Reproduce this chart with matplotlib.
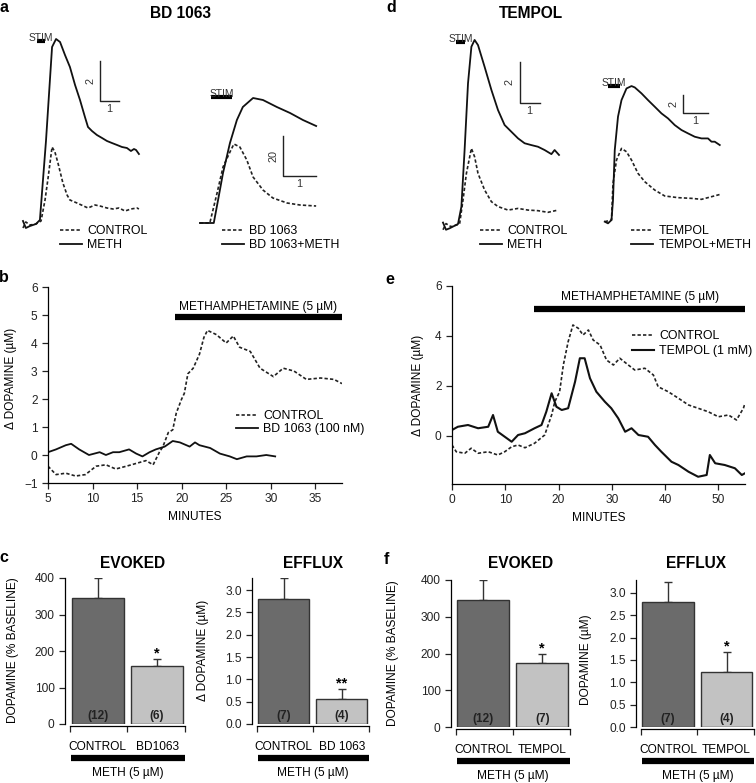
"""
Two-column figure: BD 1063 (left) and TEMPOL (right) effects on
methamphetamine-induced dopamine release.
"""

import matplotlib
matplotlib.use("Agg")
import matplotlib.pyplot as plt
from matplotlib.lines import Line2D

plt.rcParams["font.family"] = ["Liberation Sans", "DejaVu Sans"]
plt.rcParams["axes.linewidth"] = 0.9

# ---- panel a: evoked traces (time in s, left pair in uM, right pair in %)
A_TIME_CTRL = [0, 0.15, 0.37, 0.68, 0.95, 1.16, 1.32, 1.53, 1.68, 1.84, 2.1, 2.32,
               2.47, 2.84, 3.42, 3.79, 4.05, 4.42, 4.74, 5.05, 5.37, 5.68, 6.0, 6.1]
A_DA_CTRL = [-0.15, 0.15, 0.0, 0.05, 0.2, 1.25, 2.35, 3.9, 3.65, 3.1, 2.1, 1.5,
             1.25, 1.1, 0.85, 1.0, 0.95, 0.85, 0.8, 0.85, 0.7, 0.8, 0.85, 0.8]
A_TIME_METH = [0, 0.15, 0.37, 0.68, 0.89, 1.21, 1.53, 1.74, 1.95, 2.21, 2.47, 2.74,
               3.0, 3.26, 3.42, 3.63, 3.89, 4.16, 4.42, 4.68, 4.95, 5.21, 5.47,
               5.68, 5.84, 5.95, 6.1]
A_DA_METH = [0.2, -0.15, -0.05, 0.05, 0.25, 4.2, 8.9, 9.3, 9.15, 8.5, 7.9, 7.0,
             6.25, 5.4, 4.9, 4.7, 4.5, 4.35, 4.2, 4.1, 4.0, 3.9, 3.85,
             3.7, 3.8, 3.75, 3.55]
A_TIME_BD = [0, 0.3, 0.52, 0.7, 0.91, 1.03, 1.21, 1.42, 1.61, 1.91, 2.21, 2.64, 3.03, 3.52]
A_DA_BD = [0, 0, 15, 28, 35.5, 39.5, 38, 31.5, 23, 16.5, 12.5, 10, 9, 8.5]
A_TIME_BDMETH = [0, 0.42, 0.55, 0.7, 0.91, 1.12, 1.3, 1.61, 1.91, 2.33, 2.73, 3.12, 3.52]
A_DA_BDMETH = [0, 0, 11.5, 25, 40, 51.5, 58, 62.5, 61.5, 58, 55, 51.5, 48.5]

# ---- panel d: evoked traces
D_TIME_CTRL = [0, 0.15, 0.4, 0.83, 1.0, 1.17, 1.42, 1.58, 1.75, 2.08, 2.42, 2.75,
               3.25, 3.75, 4.25, 4.75, 5.25, 5.75]
D_DA_CTRL = [-0.15, 0.15, 0.0, 0.13, 1.3, 2.6, 3.82, 3.41, 2.6, 1.79, 1.22, 0.98,
             0.81, 0.89, 0.81, 0.78, 0.7, 0.81]
D_TIME_METH = [0, 0.15, 0.33, 0.75, 0.92, 1.08, 1.25, 1.42, 1.58, 1.75, 2.08, 2.42,
               2.75, 3.08, 3.42, 3.75, 4.08, 4.42, 4.75, 5.08, 5.42, 5.58, 5.8]
D_DA_METH = [0.2, -0.15, -0.08, 0.13, 0.98, 3.74, 6.99, 8.78, 9.11, 8.86, 7.8, 6.67,
             5.69, 4.96, 4.63, 4.31, 4.07, 3.98, 3.9, 3.74, 3.54, 3.74, 3.5]
D_TIME_TEMPOL = [0, 0.27, 0.33, 0.47, 0.67, 0.87, 1.07, 1.33, 1.6, 2.0, 2.4, 2.93,
                 3.47, 3.87, 4.27, 4.67]
D_DA_TEMPOL = [0, 0.19, 4.34, 6.98, 8.3, 7.92, 6.98, 5.47, 4.53, 3.58, 2.91, 2.72,
               2.64, 2.53, 2.83, 3.13]
D_TIME_TMETH = [0, 0.13, 0.27, 0.33, 0.4, 0.53, 0.67, 0.87, 1.07, 1.2, 1.47, 1.73,
                2.0, 2.27, 2.53, 2.8, 3.07, 3.33, 3.6, 3.87, 4.13, 4.27, 4.4, 4.6]
D_DA_TMETH = [0, -0.19, 0.19, 2.45, 8.11, 11.89, 13.77, 15.09, 15.36, 15.21, 14.53,
              13.77, 13.02, 12.26, 11.7, 10.94, 10.38, 10.0, 9.62, 9.43, 9.43,
              9.06, 9.06, 8.68]

# ---- panel b: efflux time course (minutes, delta uM)
B_MIN_CTRL = [5, 5.9, 7.0, 8.1, 9.2, 10.4, 11.5, 12.6, 13.8, 14.9, 16.0, 16.8, 17.5,
              17.9, 18.5, 19.0, 19.4, 20.0, 20.3, 20.7, 21.3, 22.0, 22.5, 22.9,
              23.9, 25.0, 25.8, 26.5, 27.7, 28.8, 30.3, 31.4, 32.6, 34.0, 35.6,
              37.1, 38.0]
B_DA_CTRL = [-0.4, -0.7, -0.65, -0.75, -0.7, -0.4, -0.35, -0.5, -0.4, -0.3, -0.2,
             -0.35, 0.1, 0.3, 0.8, 0.9, 1.5, 2.0, 2.2, 2.9, 3.1, 3.6, 4.2, 4.45,
             4.3, 4.0, 4.25, 3.85, 3.7, 3.1, 2.8, 3.1, 3.0, 2.7, 2.75, 2.7, 2.55]
B_MIN_BD = [5, 5.9, 7.0, 7.6, 8.5, 9.6, 10.8, 11.5, 12.3, 13.0, 14.1, 14.9, 15.6,
            16.4, 17.1, 18.1, 19.0, 19.8, 20.9, 21.5, 22.0, 23.2, 24.3, 25.4, 26.2,
            27.3, 28.4, 29.5, 30.5]
B_DA_BD = [0.1, 0.2, 0.35, 0.4, 0.2, 0.0, 0.1, 0.0, 0.1, 0.1, 0.2, 0.05, -0.05,
           0.1, 0.2, 0.3, 0.5, 0.45, 0.3, 0.45, 0.35, 0.25, 0.05, -0.05, -0.15,
           -0.05, -0.05, 0.0, -0.05]
B_METH_ON = [19.3, 38]

# ---- panel e: efflux time course
E_MIN_CTRL = [0, 0.8, 2.4, 3.6, 4.9, 6.8, 8.6, 9.9, 11.2, 12.4, 13.7, 15.5, 17.4,
              18.7, 19.3, 20.2, 20.9, 21.8, 22.7, 23.7, 24.6, 25.6, 26.5, 27.8,
              29.0, 30.3, 31.5, 33.1, 34.3, 36.2, 37.8, 38.7, 40.6, 42.5, 44.4,
              46.2, 48.1, 50.0, 51.9, 53.4, 54.7, 55.0]
E_DA_CTRL = [-0.36, -0.63, -0.69, -0.49, -0.69, -0.63, -0.76, -0.63, -0.43, -0.36,
             -0.47, -0.29, 0.04, 0.84, 1.37, 1.77, 2.84, 3.77, 4.44, 4.31, 4.04,
             4.24, 3.84, 3.64, 3.04, 2.84, 3.11, 2.84, 2.64, 2.71, 2.44, 1.97,
             1.77, 1.51, 1.24, 1.11, 0.97, 0.77, 0.84, 0.64, 1.11, 1.31]
E_MIN_TEMPOL = [0, 1.1, 3.0, 4.9, 6.8, 7.7, 8.6, 9.9, 11.2, 12.4, 13.7, 15.5, 16.8,
                17.7, 18.7, 19.6, 20.6, 21.8, 23.1, 24.0, 24.9, 25.9, 27.1, 28.7,
                29.9, 31.2, 32.5, 33.7, 35.0, 36.8, 38.1, 39.3, 41.2, 42.5, 44.4,
                46.2, 47.8, 48.4, 49.4, 51.2, 53.1, 54.4, 55.0]
E_DA_TEMPOL = [0.24, 0.37, 0.44, 0.31, 0.37, 0.84, 0.17, -0.03, -0.23, 0.04, 0.11,
               0.31, 0.44, 0.97, 1.71, 1.17, 1.04, 1.11, 2.17, 3.11, 3.11, 2.31,
               1.77, 1.37, 1.11, 0.71, 0.17, 0.31, 0.04, -0.03, -0.36, -0.63,
               -1.03, -1.16, -1.43, -1.63, -1.56, -0.76, -1.09, -1.16, -1.29,
               -1.56, -1.49]
E_METH_ON = [15.4, 55]

# ---- panels c and f: bar summaries
C_EVOKED = [345, 160]
C_EVOKED_ERR = [55, 17]
C_EFFLUX = [2.8, 0.55]
C_EFFLUX_ERR = [0.47, 0.23]
C_N = ["(12)", "(6)"]
C_N_EFFLUX = ["(7)", "(4)"]
F_EVOKED = [345, 175]
F_EVOKED_ERR = [55, 23]
F_EFFLUX = [2.8, 1.22]
F_EFFLUX_ERR = [0.45, 0.46]
F_N = ["(12)", "(7)"]
F_N_EFFLUX = ["(7)", "(4)"]

W, H = 756, 783
DASH = (0, (2.0, 1.3))
FS = 8.6
LEG_FS = 8.9

fig = plt.figure(figsize=(W / 100, H / 100), dpi=100)


def px_axes(left, top, width, height):
    return fig.add_axes([left / W, (H - top - height) / H, width / W, height / H])


def ftext(x, y, s, **kw):
    fig.text(x / W, 1 - y / H, s, **kw)


def add_legend(ax, labels, x, y, spacing=0.15, lw_solid=1.3):
    handles = [Line2D([], [], color="#222222", lw=1.2, ls=DASH),
               Line2D([], [], color="#111111", lw=lw_solid)]
    ax.legend(handles, labels, loc="upper left", bbox_to_anchor=(x / W, 1 - y / H),
              bbox_transform=fig.transFigure, frameon=False, fontsize=LEG_FS,
              handlelength=1.75, handletextpad=0.45, labelspacing=spacing,
              borderpad=0, borderaxespad=0)


def trace_panel(box, xlim, ylim, dashed, solid, stim, scale, scale_lab, labels, leg_xy):
    ax = px_axes(*box)
    ax.set_xlim(xlim)
    ax.set_ylim(ylim)
    ax.axis("off")
    ax.plot(dashed[0], dashed[1], color="#222222", lw=1.2, ls=DASH)
    ax.plot(solid[0], solid[1], color="#111111", lw=1.3)
    s0, s1, sy = stim
    ax.plot([s0, s1], [sy, sy], color="black", lw=3, solid_capstyle="butt")
    ax.annotate("STIM", ((s0 + s1) / 2, sy), xytext=(0, -1.5), textcoords="offset points",
                ha="center", va="bottom", fontsize=7.4, color="#333333")
    x0, y0, dx, dy = scale
    ax.plot([x0, x0, x0 + dx], [y0 + dy, y0, y0], color="#222222", lw=1)
    ax.annotate(scale_lab[0], (x0, y0 + dy / 2), xytext=(-7, 0), textcoords="offset points",
                ha="center", va="center", rotation=90, fontsize=7.8, color="#333333")
    ax.annotate(scale_lab[1], (x0 + dx / 2, y0), xytext=(0, -6), textcoords="offset points",
                ha="center", va="center", fontsize=7.8, color="#333333")
    add_legend(ax, labels, *leg_xy)
    return ax


def style_axes(ax):
    for side in ("top", "right"):
        ax.spines[side].set_visible(False)
    ax.tick_params(direction="out", length=4, width=0.9, labelsize=FS, colors="#222222")


def time_panel(box, xlim, ylim, xticks, yticks, ctrl, drug, meth_on, meth_y, text_xy,
               labels, leg_xy, spacing, drug_lw=1.3):
    ax = px_axes(*box)
    ax.plot(ctrl[0], ctrl[1], color="#222222", lw=1.2, ls=DASH)
    ax.plot(drug[0], drug[1], color="#111111", lw=drug_lw)
    ax.set_xlim(xlim)
    ax.set_ylim(ylim)
    ax.set_xticks(xticks)
    ax.set_yticks(yticks)
    style_axes(ax)
    ax.plot(meth_on, [meth_y, meth_y], color="black", lw=4.5, solid_capstyle="butt",
            clip_on=False)
    ax.text(text_xy[0], text_xy[1], "METHAMPHETAMINE (5 \u00b5M)", ha="center",
            va="center", fontsize=FS)
    ax.set_xlabel("MINUTES", fontsize=FS, labelpad=4)
    add_legend(ax, labels, *leg_xy, spacing=spacing, lw_solid=drug_lw)
    return ax


def bar_panel(box, ylim, yticks, fmt, vals, errs, ns, star, cats):
    ax = px_axes(*box)
    pos = [0, 1]
    ax.errorbar(pos, vals, yerr=[[0, 0], errs], fmt="none", ecolor="#333333",
                elinewidth=1, capsize=3, capthick=1, zorder=1)
    ax.bar(pos, vals, width=0.88, color=["#6b6b6b", "#c2c2c2"], edgecolor="#333333",
           linewidth=1, zorder=2)
    for p, n in zip(pos, ns):
        ax.annotate(n, (p, 0), xytext=(0, 1.5), textcoords="offset points", ha="center",
                    va="bottom", fontsize=8.6, fontweight="bold", color="#222222")
    ax.annotate(star, (1, vals[1] + errs[1]), xytext=(0, -1), textcoords="offset points",
                ha="center", va="bottom", fontsize=10.5, fontweight="bold")
    ax.set_xlim(-0.55, 1.47)
    ax.set_ylim(ylim)
    ax.set_yticks(yticks)
    ax.set_yticklabels([fmt.format(t) for t in yticks])
    ax.set_xticks([-0.47, 0.5, 1.47])
    ax.set_xticklabels([])
    ax.set_xticks(pos, minor=True)
    ax.set_xticklabels(cats, minor=True)
    style_axes(ax)
    ax.tick_params(axis="x", which="minor", length=0, pad=10.5, labelsize=FS)
    ax.spines["bottom"].set_bounds(-0.47, 1.47)
    ax.spines["bottom"].set_position(("outward", 1.5))
    xt = ax.get_xaxis_transform()
    ax.plot([-0.45, 1.47], [-0.23, -0.23], transform=xt, color="black", lw=4.5,
            solid_capstyle="butt", clip_on=False)
    ax.text(0.5, -0.335, "METH (5 \u00b5M)", transform=xt, ha="center", va="center",
            fontsize=FS)
    return ax


# ---- traces (a, d)
trace_panel((15, 25, 130, 205), (-0.42, 6.42), (-0.25, 10.0),
            (A_TIME_CTRL, A_DA_CTRL), (A_TIME_METH, A_DA_METH),
            (0.74, 1.16, 9.2), (4.05, 6.2, 1, 2), ("2", "1"),
            ["CONTROL", "METH"], (60, 225))
trace_panel((190, 80, 140, 150), (-0.3, 3.94), (-3.5, 71.5),
            (A_TIME_BD, A_DA_BD), (A_TIME_BDMETH, A_DA_BDMETH),
            (0.33, 0.97, 63), (2.52, 23.5, 1, 20), ("20", "1"),
            ["BD 1063", "BD 1063+METH"], (222, 225))
trace_panel((435, 25, 135, 207), (-0.4, 6.35), (-0.26, 9.84),
            (D_TIME_CTRL, D_DA_CTRL), (D_TIME_METH, D_DA_METH),
            (0.67, 1.12, 9.0), (3.83, 6.05, 1, 2), ("2", "1"),
            ["CONTROL", "METH"], (480, 225))
trace_panel((595, 70, 130, 162), (-0.39, 4.81), (-1.17, 17.18),
            (D_TIME_TEMPOL, D_DA_TEMPOL), (D_TIME_TMETH, D_DA_TMETH),
            (0.13, 0.6, 15.36), (3.13, 12.34, 1, 2), ("2", "1"),
            ["TEMPOL", "TEMPOL+METH"], (631, 225))

# ---- time courses (b, e)
time_panel((48, 287, 294, 196), (5, 38), (-1, 6), range(5, 40, 5), range(-1, 7),
           (B_MIN_CTRL, B_DA_CTRL), (B_MIN_BD, B_DA_BD), B_METH_ON, 4.93, (28.6, 5.3),
           ["CONTROL", "BD 1063 (100 nM)"], (236, 410), 0.08)
time_panel((452, 286, 293, 198), (0, 55), (-1.92, 6), range(0, 55, 10), [0, 2, 4, 6],
           (E_MIN_CTRL, E_DA_CTRL), (E_MIN_TEMPOL, E_DA_TEMPOL), E_METH_ON, 5.08,
           (35.3, 5.56), ["CONTROL", "TEMPOL (1 mM)"], (632, 330), 0.25, drug_lw=1.5)

# ---- bar summaries (c, f)
bar_panel((65, 578, 120, 146), (0, 400), [0, 100, 200, 300, 400], "{:.0f}",
          C_EVOKED, C_EVOKED_ERR, C_N, "*", ["CONTROL", "BD1063"])
bar_panel((252, 578, 117, 146), (0, 3.27), [0, 0.5, 1, 1.5, 2, 2.5, 3], "{:.1f}",
          C_EFFLUX, C_EFFLUX_ERR, C_N_EFFLUX, "**", ["CONTROL", "BD 1063"])
bar_panel((451, 580, 119, 147), (0, 400), [0, 100, 200, 300, 400], "{:.0f}",
          F_EVOKED, F_EVOKED_ERR, F_N, "*", ["CONTROL", "TEMPOL"])
bar_panel((636, 580, 118, 147), (0, 3.29), [0, 0.5, 1, 1.5, 2, 2.5, 3], "{:.1f}",
          F_EFFLUX, F_EFFLUX_ERR, F_N_EFFLUX, "*", ["CONTROL", "TEMPOL"])

# ---- titles, panel letters and y labels
for x, y, s in [(4, 8, "a"), (4, 277, "b"), (4, 558, "c"),
                (391, 8, "d"), (390, 279, "e"), (386, 559, "f")]:
    ftext(x, y, s, ha="center", va="center", fontsize=11.5, fontweight="bold")
for x, y, s in [(180, 14, "BD 1063"), (531, 14, "TEMPOL"), (133, 563, "EVOKED"),
                (313, 563, "EFFLUX"), (521, 563, "EVOKED"), (696, 563, "EFFLUX")]:
    ftext(x, y, s, ha="center", va="center", fontsize=11.2, fontweight="bold")
for x, y, s in [(11, 378, "\u0394 DOPAMINE (\u00b5M)"), (418, 385, "\u0394 DOPAMINE (\u00b5M)"),
                (13, 650, "DOPAMINE (% BASELINE)"), (203, 650, "\u0394 DOPAMINE (\u00b5M)"),
                (393, 653, "DOPAMINE (% BASELINE)"), (586, 660, "DOPAMINE (\u00b5M)")]:
    ftext(x, y, s, ha="center", va="center", rotation=90, fontsize=FS)

fig.savefig("out.png", dpi=100)
